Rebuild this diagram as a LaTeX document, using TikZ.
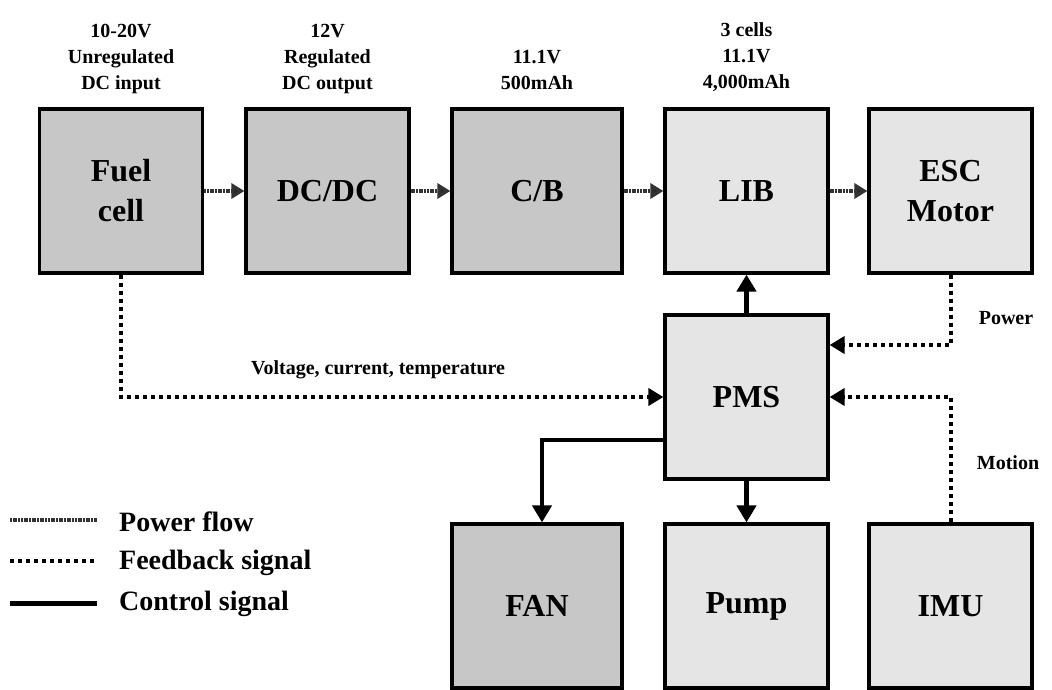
\documentclass[tikz,border=0pt]{standalone}
\usepackage{fontspec}
\setmainfont{Liberation Serif}
\usetikzlibrary{arrows.meta}
\tikzset{
  blk/.style={draw=black, line width=3.2pt, minimum width=163pt, minimum height=164pt, inner sep=0pt,
    font=\fontsize{32}{40}\selectfont\bfseries, align=center},
  dark/.style={blk, fill=black!22},
  light/.style={blk, fill=black!10},
  toplbl/.style={font=\fontsize{20}{26}\selectfont\bfseries, align=center, anchor=south, inner sep=0pt},
  sidelbl/.style={font=\fontsize{20}{24}\selectfont\bfseries, inner sep=0pt},
  leglbl/.style={font=\fontsize{28}{32}\selectfont\bfseries, anchor=west, inner sep=0pt},
  power/.style={line width=3.5pt, draw=black!80, dash pattern=on 2pt off 0.7pt,
    -{Triangle[length=13pt,width=15pt,fill=black!85]}},
  fb/.style={line width=4pt, dash pattern=on 4pt off 4pt,
    -{Triangle[length=15pt,width=17pt]}},
  ctrl/.style={line width=4.5pt, -{Triangle[length=17pt,width=19pt]}},
}
\begin{document}
\begin{tikzpicture}[x=1pt,y=-1pt]
\useasboundingbox (0,0) rectangle (1052,689);
% blocks
\node[dark] (fc) at (121,191) {Fuel\\cell};
\node[dark] (dc) at (327.5,191) {DC/DC};
\node[dark, minimum width=170pt] (cb) at (537,191) {C/B};
\node[light] (lib) at (746.5,191) {LIB};
\node[light] (esc) at (950.5,191) {ESC\\Motor};
\node[light] (pms) at (746.5,397) {PMS};
\node[dark, minimum width=170pt] (fan) at (537,606) {FAN};
\node[light] (pump) at (746.5,606) {Pump};
\node[light] (imu) at (950.5,606) {IMU};
% top labels
\node[toplbl] (l1) at (121,94) {10-20V\\Unregulated\\DC input};
\node[toplbl] (l2) at (327.5,94) {12V\\Regulated\\DC output};
\node[toplbl] (l3) at (537,90) {11.1V\\500mAh};
\node[toplbl] (l4) at (746.5,92) {3 cells\\11.1V\\4,000mAh};
% power flow
\draw[power] (fc.east) -- (dc.west);
\draw[power] (dc.east) -- (cb.west);
\draw[power] (cb.east) -- (lib.west);
\draw[power] (lib.east) -- (esc.west);
% control
\draw[ctrl] (pms.north) -- (lib.south);
\draw[ctrl] (pms.south) -- (pump.north);
\draw[ctrl, line cap=rect] ([yshift=-43pt]pms.west) -| ([xshift=5pt]fan.north);
% feedback
\draw[fb] (fc.south) |- (pms.west);
\draw[fb] (esc.south) |- ([yshift=52pt]pms.east);
\draw[fb] (imu.north) |- (pms.east);
% side labels
\node[sidelbl] (vct) at (378,370) {Voltage, current, temperature};
\node[sidelbl] (pw) at (1006,318) {Power};
\node[sidelbl] (mo) at (1008,463) {Motion};
% legend
\coordinate (p1) at (10,520); \coordinate (p2) at (97,520);
\coordinate (f1) at (10,561); \coordinate (f2) at (97,561);
\coordinate (c1) at (10,603); \coordinate (c2) at (97,603);
\draw[line width=3.5pt, draw=black!80, dash pattern=on 2pt off 0.7pt] (p1) -- (p2);
\draw[line width=4pt, dash pattern=on 4pt off 4pt] (f1) -- (f2);
\draw[line width=5pt] (c1) -- (c2);
\node[leglbl] (lp) at (119,522) {Power flow};
\node[leglbl] (lf) at (119,563) {Feedback signal};
\node[leglbl] (lc) at (119,604) {Control signal};
\end{tikzpicture}
\end{document}
